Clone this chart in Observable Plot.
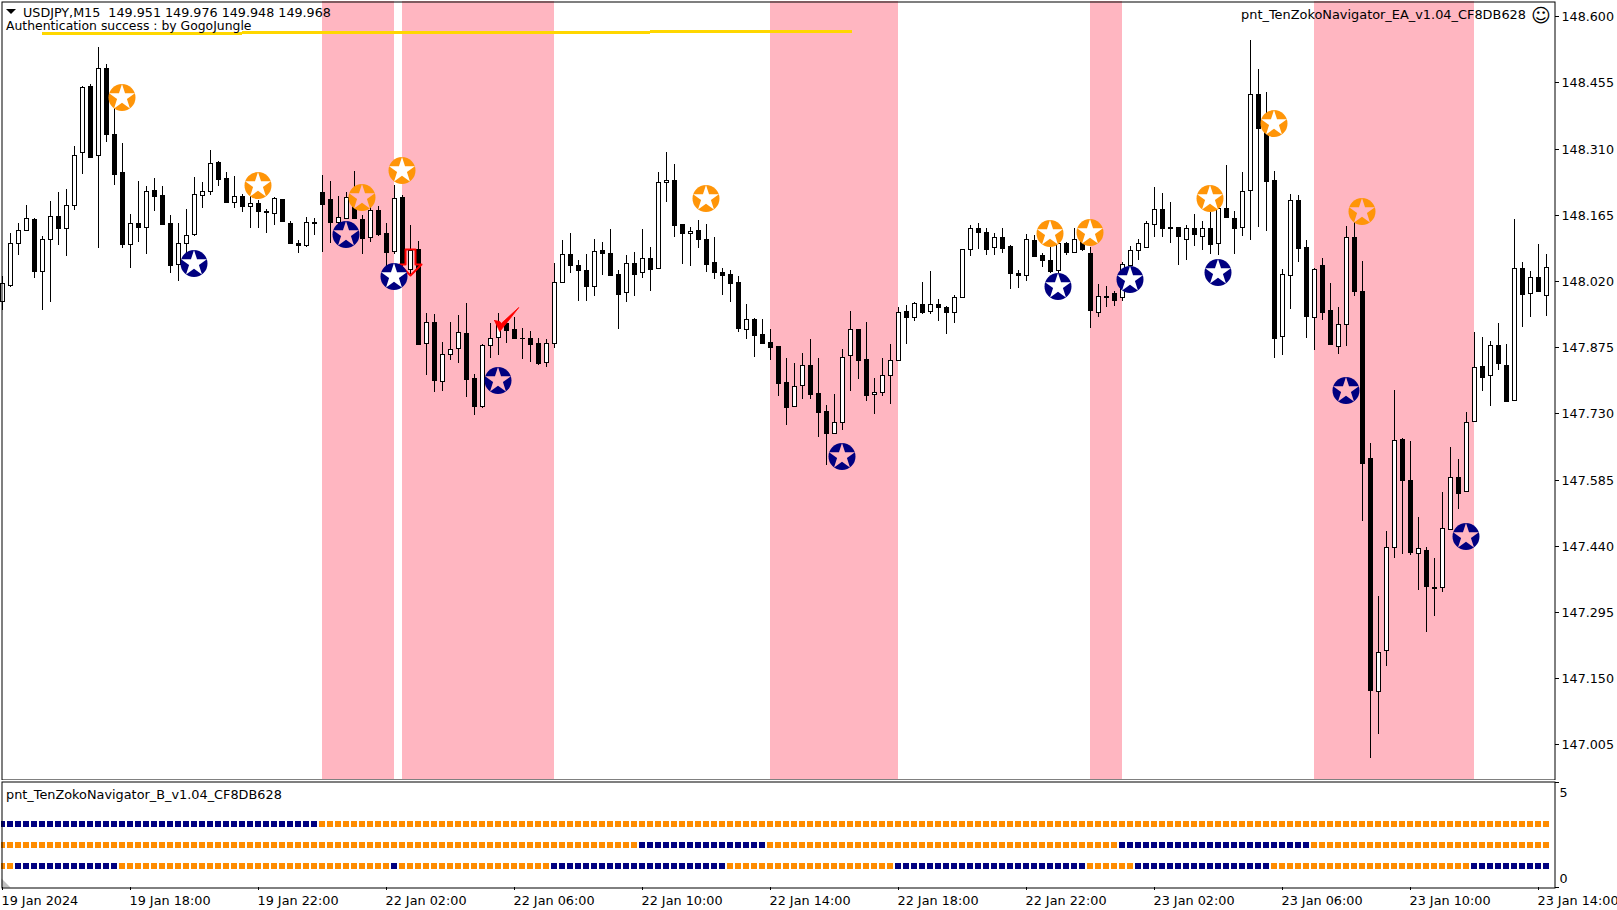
<!DOCTYPE html>
<html>
<head>
<meta charset="utf-8">
<script src="https://cdn.jsdelivr.net/npm/d3@7"></script>
<script src="https://cdn.jsdelivr.net/npm/@observablehq/plot@0.6"></script>
<style>
html,body{margin:0;padding:0;background:#fff;overflow:hidden;width:1617px;height:910px}
#chart{position:relative;width:1617px;height:910px;font-family:"DejaVu Sans",sans-serif;font-size:12.5px;color:#000}
#chart svg{position:absolute;left:0;background:transparent}
.lab{position:absolute;white-space:pre;line-height:15px}
#tri{position:absolute;left:6px;top:9px;width:0;height:0;border-left:5px solid transparent;border-right:5px solid transparent;border-top:5px solid #000}
</style>
</head>
<body>
<div id="chart">
<div id="main"></div><div id="sub"></div>
<div id="tri"></div>
<div class="lab" style="left:23px;top:5px;font-size:12.72px">USDJPY,M15  149.951 149.976 149.948 149.968</div>
<div class="lab" style="left:6px;top:18px;font-size:12.4px">Authentication success : by GogoJungle</div>
<div class="lab" style="right:91px;top:7px;font-size:12.9px">pnt_TenZokoNavigator_EA_v1.04_CF8DB628</div>
<div class="lab" style="left:1531px;top:6px;font-size:19px;line-height:19px">☺</div>
<div class="lab" style="left:6px;top:787px;font-size:12.85px">pnt_TenZokoNavigator_B_v1.04_CF8DB628</div>
</div>
<script>
const opens = [
147.977,148.011,148.104,148.131,148.156,148.041,148.111,148.162,148.137,148.186,
148.303,148.447,148.295,148.486,148.341,148.258,148.100,148.146,148.139,148.219,
148.208,148.146,148.057,148.104,148.122,148.209,148.218,148.281,148.246,148.194,
148.206,148.185,148.191,148.173,148.168,148.200,148.147,148.103,148.098,148.148,
148.214,148.199,148.149,148.159,148.214,148.156,148.116,148.176,148.125,148.086,
148.203,148.046,148.090,147.884,147.930,147.800,147.859,147.873,147.906,147.807,
147.745,147.879,147.897,147.927,147.914,147.894,147.894,147.884,147.842,147.884,
148.017,148.079,148.055,148.043,148.008,148.088,148.081,148.035,147.995,148.059,
148.039,148.070,148.048,148.236,148.241,148.145,148.124,148.131,148.113,148.061,
148.040,148.035,148.017,147.914,147.936,147.903,147.886,147.878,147.798,147.746,
147.792,147.837,147.774,147.735,147.686,147.712,147.857,147.914,147.849,147.772,
147.776,147.813,147.846,147.954,147.940,147.969,147.954,147.969,147.962,147.951,
147.984,148.089,148.136,148.127,148.094,148.116,148.097,148.037,148.032,148.110,
148.077,148.067,148.043,148.103,148.084,148.110,148.081,147.951,147.985,147.994,
147.984,148.055,148.087,148.095,148.144,148.177,148.138,148.138,148.113,148.135,
148.119,148.135,148.103,148.179,148.159,148.138,148.219,148.429,148.354,148.241,
147.899,148.033,148.197,148.094,147.941,148.054,147.956,147.877,147.925,148.116,
147.998,147.632,147.121,147.211,147.438,147.673,147.583,147.424,147.430,147.348,
147.349,147.477,147.590,147.559,147.714,147.833,147.813,147.879,147.835,147.759,
148.048,147.993,148.028,147.989];
const highs = [
148.031,148.126,148.146,148.187,148.157,148.119,148.195,148.214,148.222,148.316,
148.447,148.452,148.533,148.495,148.409,148.322,148.166,148.239,148.228,148.246,
148.228,148.165,148.146,148.178,148.248,148.236,148.307,148.282,148.259,148.250,
148.210,148.214,148.198,148.177,148.205,148.200,148.151,148.110,148.160,148.157,
148.252,148.239,148.206,148.215,148.261,148.165,148.181,148.184,148.146,148.230,
148.208,148.143,148.108,147.950,147.948,147.886,147.930,147.946,147.972,147.816,
147.882,147.928,147.950,147.935,147.942,147.916,147.911,147.894,147.893,148.059,
148.110,148.124,148.066,148.079,148.112,148.105,148.134,148.044,148.077,148.084,
148.134,148.094,148.258,148.302,148.276,148.145,148.138,148.154,148.145,148.116,
148.048,148.043,148.031,147.970,147.938,147.937,147.915,147.878,147.851,147.840,
147.862,147.892,147.851,147.748,147.773,147.870,147.954,147.915,147.930,147.808,
147.851,147.881,147.962,147.967,147.975,148.018,148.042,147.981,147.965,147.989,
148.089,148.142,148.146,148.135,148.124,148.135,148.098,148.043,148.122,148.121,
148.081,148.095,148.104,148.106,148.135,148.139,148.094,148.013,148.009,147.998,
148.062,148.097,148.113,148.151,148.225,148.212,148.192,148.139,148.143,148.166,
148.151,148.172,148.212,148.274,148.173,148.259,148.548,148.484,148.434,148.261,
148.046,148.211,148.208,148.110,148.049,148.071,148.015,147.962,148.141,148.176,
148.064,147.664,147.330,147.472,147.781,147.675,147.670,147.503,147.437,147.413,
147.558,147.656,147.630,147.733,147.908,147.897,147.888,147.927,147.882,148.156,
148.061,148.042,148.101,148.079];
const lows = [
147.957,148.006,148.077,148.131,148.027,147.957,147.973,148.099,148.075,148.176,
148.254,148.292,148.092,148.325,148.230,148.092,148.049,148.106,148.079,148.174,
148.143,148.038,148.021,148.081,148.119,148.180,148.208,148.227,148.192,148.180,
148.170,148.136,148.136,148.126,148.143,148.150,148.101,148.081,148.095,148.121,
148.084,148.104,148.132,148.156,148.159,148.079,148.106,148.119,148.037,148.079,
148.051,148.030,147.881,147.814,147.776,147.780,147.846,147.841,147.765,147.727,
147.741,147.851,147.858,147.885,147.893,147.849,147.843,147.835,147.832,147.874,
148.016,148.038,147.977,147.977,147.988,148.032,148.034,147.915,147.975,147.986,
148.027,147.997,148.048,148.194,148.117,148.058,148.053,148.093,148.040,148.025,
147.989,147.975,147.909,147.893,147.854,147.882,147.847,147.768,147.705,147.745,
147.762,147.762,147.679,147.617,147.686,147.694,147.778,147.805,147.757,147.729,
147.767,147.751,147.846,147.882,147.933,147.948,147.948,147.932,147.904,147.929,
147.984,148.075,148.090,148.077,148.077,148.081,148.003,148.005,148.019,148.073,
148.051,148.037,148.037,148.077,148.084,148.086,147.918,147.940,147.964,147.966,
147.977,148.044,148.066,148.095,148.117,148.117,148.104,148.056,148.066,148.097,
148.088,148.079,148.077,148.159,148.079,148.119,148.110,148.139,148.130,147.851,
147.858,147.959,148.062,147.896,147.869,147.935,147.880,147.860,147.878,147.987,
147.494,146.976,147.028,147.177,147.413,147.422,147.420,147.343,147.251,147.286,
147.339,147.477,147.521,147.559,147.710,147.779,147.745,147.824,147.756,147.759,
147.920,147.942,147.997,147.944];
const closes = [
148.015,148.103,148.131,148.157,148.041,148.111,148.162,148.137,148.186,148.295,
148.444,148.292,148.486,148.341,148.255,148.102,148.146,148.139,148.217,148.207,
148.145,148.054,148.103,148.120,148.210,148.217,148.278,148.244,148.192,148.206,
148.185,148.191,148.174,148.170,148.201,148.152,148.103,148.098,148.149,148.149,
148.189,148.150,148.161,148.205,148.159,148.115,148.175,148.123,148.084,148.201,
148.059,148.087,147.883,147.930,147.802,147.859,147.870,147.908,147.806,147.747,
147.879,147.894,147.925,147.913,147.896,147.895,147.883,147.841,147.884,148.017,
148.078,148.056,148.043,148.008,148.085,148.082,148.034,147.992,148.059,148.036,
148.070,148.047,148.236,148.241,148.143,148.124,148.129,148.111,148.058,148.040,
148.034,148.016,147.916,147.936,147.902,147.885,147.876,147.797,147.743,147.789,
147.837,147.773,147.734,147.688,147.712,147.854,147.914,147.846,147.771,147.776,
147.813,147.846,147.953,147.940,147.971,147.953,147.969,147.964,147.951,147.984,
148.089,148.135,148.128,148.091,148.116,148.093,148.038,148.032,148.111,148.075,
148.066,148.042,148.103,148.084,148.111,148.090,147.957,147.986,147.986,147.979,
148.057,148.088,148.103,148.146,148.177,148.137,148.135,148.119,148.135,148.122,
148.137,148.102,148.179,148.161,148.137,148.216,148.429,148.356,148.240,147.894,
148.035,148.197,148.093,147.944,148.046,147.953,147.881,147.925,148.116,147.997,
147.622,147.125,147.208,147.438,147.671,147.583,147.427,147.434,147.351,147.349,
147.478,147.590,147.556,147.710,147.832,147.810,147.879,147.840,147.756,148.049,
147.992,148.028,147.997,148.050];

const priceTicks = [148.6,148.455,148.31,148.165,148.02,147.875,147.73,147.585,147.44,147.295,147.15,147.005];
const timeTicks = [0,16,32,48,64,80,96,112,128,144,160,176,192];
const timeLabels = ["19 Jan 2024","19 Jan 18:00","19 Jan 22:00","22 Jan 02:00","22 Jan 06:00","22 Jan 10:00","22 Jan 14:00","22 Jan 18:00","22 Jan 22:00","23 Jan 02:00","23 Jan 06:00","23 Jan 10:00","23 Jan 14:00"];

const bandStart = [40,50,96,136,164];
const bandEnd   = [49,69,112,140,184];

const orangeBars   = [15,32,45,50,88,131,136,151,159,170];
const orangePrices = [148.422,148.230,148.205,148.263,148.201,148.124,148.128,148.201,148.365,148.173];
const navyBars   = [24,43,49,62,105,132,141,152,168,183];
const navyPrices = [148.059,148.122,148.030,147.802,147.636,148.008,148.024,148.039,147.781,147.461];

const goldFrom   = [5,30,81];
const goldTo     = [30,81,106.25];
const goldPrices = [148.5625,148.5647,148.5670];

const arrowBars   = [50.375,51.625,51.625,52.375,51,49.625,50.375,50.375];
const arrowPrices = [148.090,148.090,148.057,148.057,148.033,148.057,148.057,148.090];
const checkBars   = [61.5,62.16,62.34,64.54,62.46,62.16,61.5];
const checkPrices = [147.9345,147.933,147.927,147.962,147.916,147.910,147.9345];

const rowValues = [3,2,1];
const rowNavyRuns = [
  [[0,39]],
  [[80,95],[140,163]],
  [[2,14],[49,49],[69,90],[112,135],[142,158],[184,193]]
];
const shiftBars = [-0.125,-0.125,1,-0.125];
const shiftVals = [0.43,0,0,0.43];

const NAVY="#000080", ORANGE="#FF8C00", STAR_ORANGE="#FF9508", PINK="#FFB6C1", GOLD="#FFD700";
const FONT={fontFamily:"'DejaVu Sans',sans-serif",fontSize:"12.7px",background:"transparent"};
const xDomain=[0,193], xRange=[2,1546];

const candles = opens.map((o,i)=>({i,h:highs[i],l:lows[i],top:Math.max(o,closes[i]),bot:Math.min(o,closes[i]),up:closes[i]>o}));
const bands = bandStart.map((s,k)=>({s,e:bandEnd[k]}));
const gold = goldPrices.map((p,k)=>({p,a:goldFrom[k],b:goldTo[k]}));
const insideBand = i => bands.some(b=>i>b.s && i<b.e);
const toStars = (bars,prices)=>bars.map((i,k)=>({i,p:prices[k],inside:insideBand(i)}));
const orangeStars = toStars(orangeBars,orangePrices);
const navyStars = toStars(navyBars,navyPrices);
const pts = (xs,ys)=>xs.map((x,k)=>({x,y:ys[k]}));

const starMarks = (stars,color)=>[
  Plot.dot(stars,{x:"i",y:"p",r:13.5,fill:color,stroke:"none",dx:-0.5}),
  Plot.dot(stars.filter(d=>!d.inside),{x:"i",y:"p",r:8.1,symbol:"star",fill:"#fff",stroke:"none",dx:-0.5}),
  Plot.dot(stars.filter(d=>d.inside),{x:"i",y:"p",r:8.1,symbol:"star",fill:PINK,stroke:"none",dx:-0.5})
];

const main = Plot.plot({
  width:1617,height:780,marginLeft:1,marginTop:1,marginRight:63,marginBottom:1,
  style:FONT,
  x:{domain:xDomain,range:xRange,axis:null},
  y:{domain:[147.005,148.6],range:[744.3,16.2],round:true,axis:null},
  marks:[
    Plot.rect(bands,{x1:"s",x2:"e",fill:PINK}),
    Plot.ruleX(candles,{x:"i",y1:"h",y2:"l",stroke:"#000",strokeWidth:1}),
    Plot.rect(candles,{x1:d=>d.i-0.3125,x2:d=>d.i+0.3125,y1:"top",y2:"bot",fill:"#000",insetBottom:-1,dx:0.5}),
    Plot.rect(candles.filter(d=>d.up),{x1:d=>d.i-0.3125,x2:d=>d.i+0.3125,y1:"top",y2:"bot",fill:"#fff",insetLeft:1,insetRight:1,insetTop:1,dx:0.5}),
    Plot.line(pts(arrowBars,arrowPrices),{x:"x",y:"y",stroke:"#FF0000",strokeWidth:2,curve:"linear"}),
    Plot.line(pts(checkBars,checkPrices),{x:"x",y:"y",fill:"#FF0000",stroke:"#FF0000",strokeWidth:0.8}),
    ...starMarks(orangeStars,STAR_ORANGE),
    ...starMarks(navyStars,NAVY),
    Plot.ruleY(gold,{y:"p",x1:"a",x2:"b",stroke:GOLD,strokeWidth:3}),
    Plot.frame({stroke:"#000",strokeWidth:1,dx:0.5,dy:0.5}),
    Plot.axisY(priceTicks,{anchor:"right",tickSize:4,tickPadding:3,tickFormat:d3.format(".3f"),fontSize:12.7,label:null,stroke:"#000",fill:"#000"})
  ]
});
main.style.top="0px";
document.getElementById("main").append(main);

const rows = rowValues.flatMap((v,r)=>opens.map((_,i)=>({
  i,v,navy:rowNavyRuns[r].some(([a,b])=>i>=a&&i<=b)
})));
const sub = Plot.plot({
  width:1617,height:130,marginLeft:1,marginTop:1,marginRight:63,marginBottom:23,
  style:FONT,
  x:{domain:xDomain,range:xRange,axis:null},
  y:{domain:[0,5],range:[107,2],round:true,axis:null},
  marks:[
    Plot.rect(rows,{x1:d=>d.i-0.375,x2:d=>d.i+0.375,y1:d=>d.v-0.143,y2:d=>d.v+0.143,fill:d=>d.navy?NAVY:ORANGE,clip:true}),
    Plot.line(pts(shiftBars,shiftVals),{x:"x",y:"y",fill:"#C0C0C0",stroke:"none"}),
    Plot.frame({stroke:"#000",strokeWidth:1,dx:0.5,dy:0.5}),
    Plot.axisY([0,5],{anchor:"right",tickSize:4,tickFormat:()=>"",label:null}),
    Plot.text([5],{y:d=>d,text:d=>String(d),frameAnchor:"right",textAnchor:"start",dx:5,dy:10,fontSize:12.7,fill:"#000"}),
    Plot.text([0],{y:d=>d,text:d=>String(d),frameAnchor:"right",textAnchor:"start",dx:5,dy:-9,fontSize:12.7,fill:"#000"}),
    Plot.axisX(timeTicks,{anchor:"bottom",tickSize:3,tickFormat:()=>"",label:null}),
    Plot.axisX(timeTicks,{anchor:"bottom",tickSize:0,tickPadding:8,dx:-1,textAnchor:"start",tickFormat:i=>timeLabels[timeTicks.indexOf(i)],fontSize:12.8,label:null,fill:"#000"})
  ]
});
sub.style.top="780px";
document.getElementById("sub").append(sub);
</script>
</body>
</html>
